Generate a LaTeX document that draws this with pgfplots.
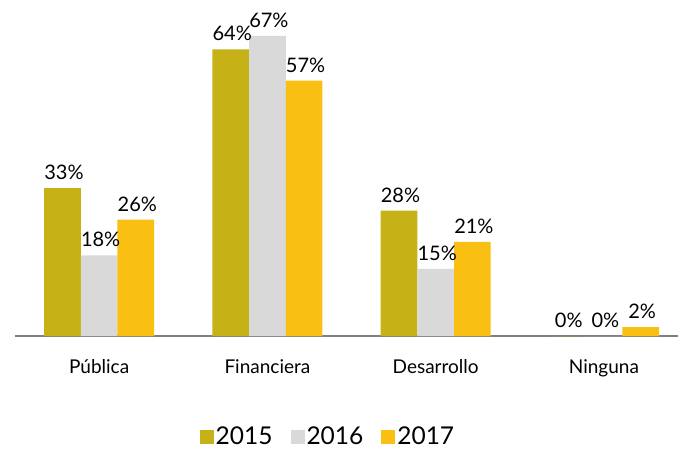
\documentclass[border=0pt]{standalone}
\usepackage{pgfplots}
\pgfplotsset{compat=1.18}
\usepackage{fontspec}
\setmainfont{Lato}
\definecolor{c15}{HTML}{C6B216}
\definecolor{c16}{HTML}{D9D9D9}
\definecolor{c17}{HTML}{F9C013}
\begin{document}
\begin{tikzpicture}
\useasboundingbox (-15pt,-117pt) rectangle (663pt,336pt);
\begin{axis}[
  at={(0pt,0pt)}, anchor=south west,
  scale only axis, width=663pt, height=336pt,
  ymin=0, ymax=75, xmin=-0.5, xmax=3.44,
  axis y line=none, axis x line*=bottom,
  x axis line style={draw=black!50, line width=1.6pt},
  xtick={0,1,2,3},
  xticklabels={Pública,Financiera,Desarrollo,Ninguna},
  xtick style={draw=none}, major tick length=0pt,
  xticklabel style={font=\fontsize{19}{19}\selectfont, yshift=-20pt},
  /pgf/number format/assume math mode=true,
  ybar=0pt, bar width=36.7pt,
  nodes near coords={\pgfmathprintnumber[assume math mode=true]{\pgfplotspointmeta}\%},
  nodes near coords style={font=\fontsize{20}{20}\selectfont, text=black, inner sep=3pt, yshift=5pt, xshift=1.5pt},
  legend style={at={(axis description cs:0.472,-0.30)}, anchor=center, draw=none,
    legend columns=3, font=\fontsize{24.5}{24.5}\selectfont,
    /tikz/every even column/.append style={column sep=16pt}},
  legend image code/.code={\fill[#1] (-4pt,-7pt) rectangle (10pt,7pt);},
  clip=false,
]
\addplot[fill=c15, draw=none] coordinates {(0,33) (1,64) (2,28) (3,0)};
\addplot[fill=c16, draw=none] coordinates {(0,18) (1,67) (2,15) (3,0)};
\addplot[fill=c17, draw=none] coordinates {(0,26) (1,57) (2,21) (3,2)};
\legend{2015,2016,2017}
\end{axis}
\end{tikzpicture}
\end{document}
